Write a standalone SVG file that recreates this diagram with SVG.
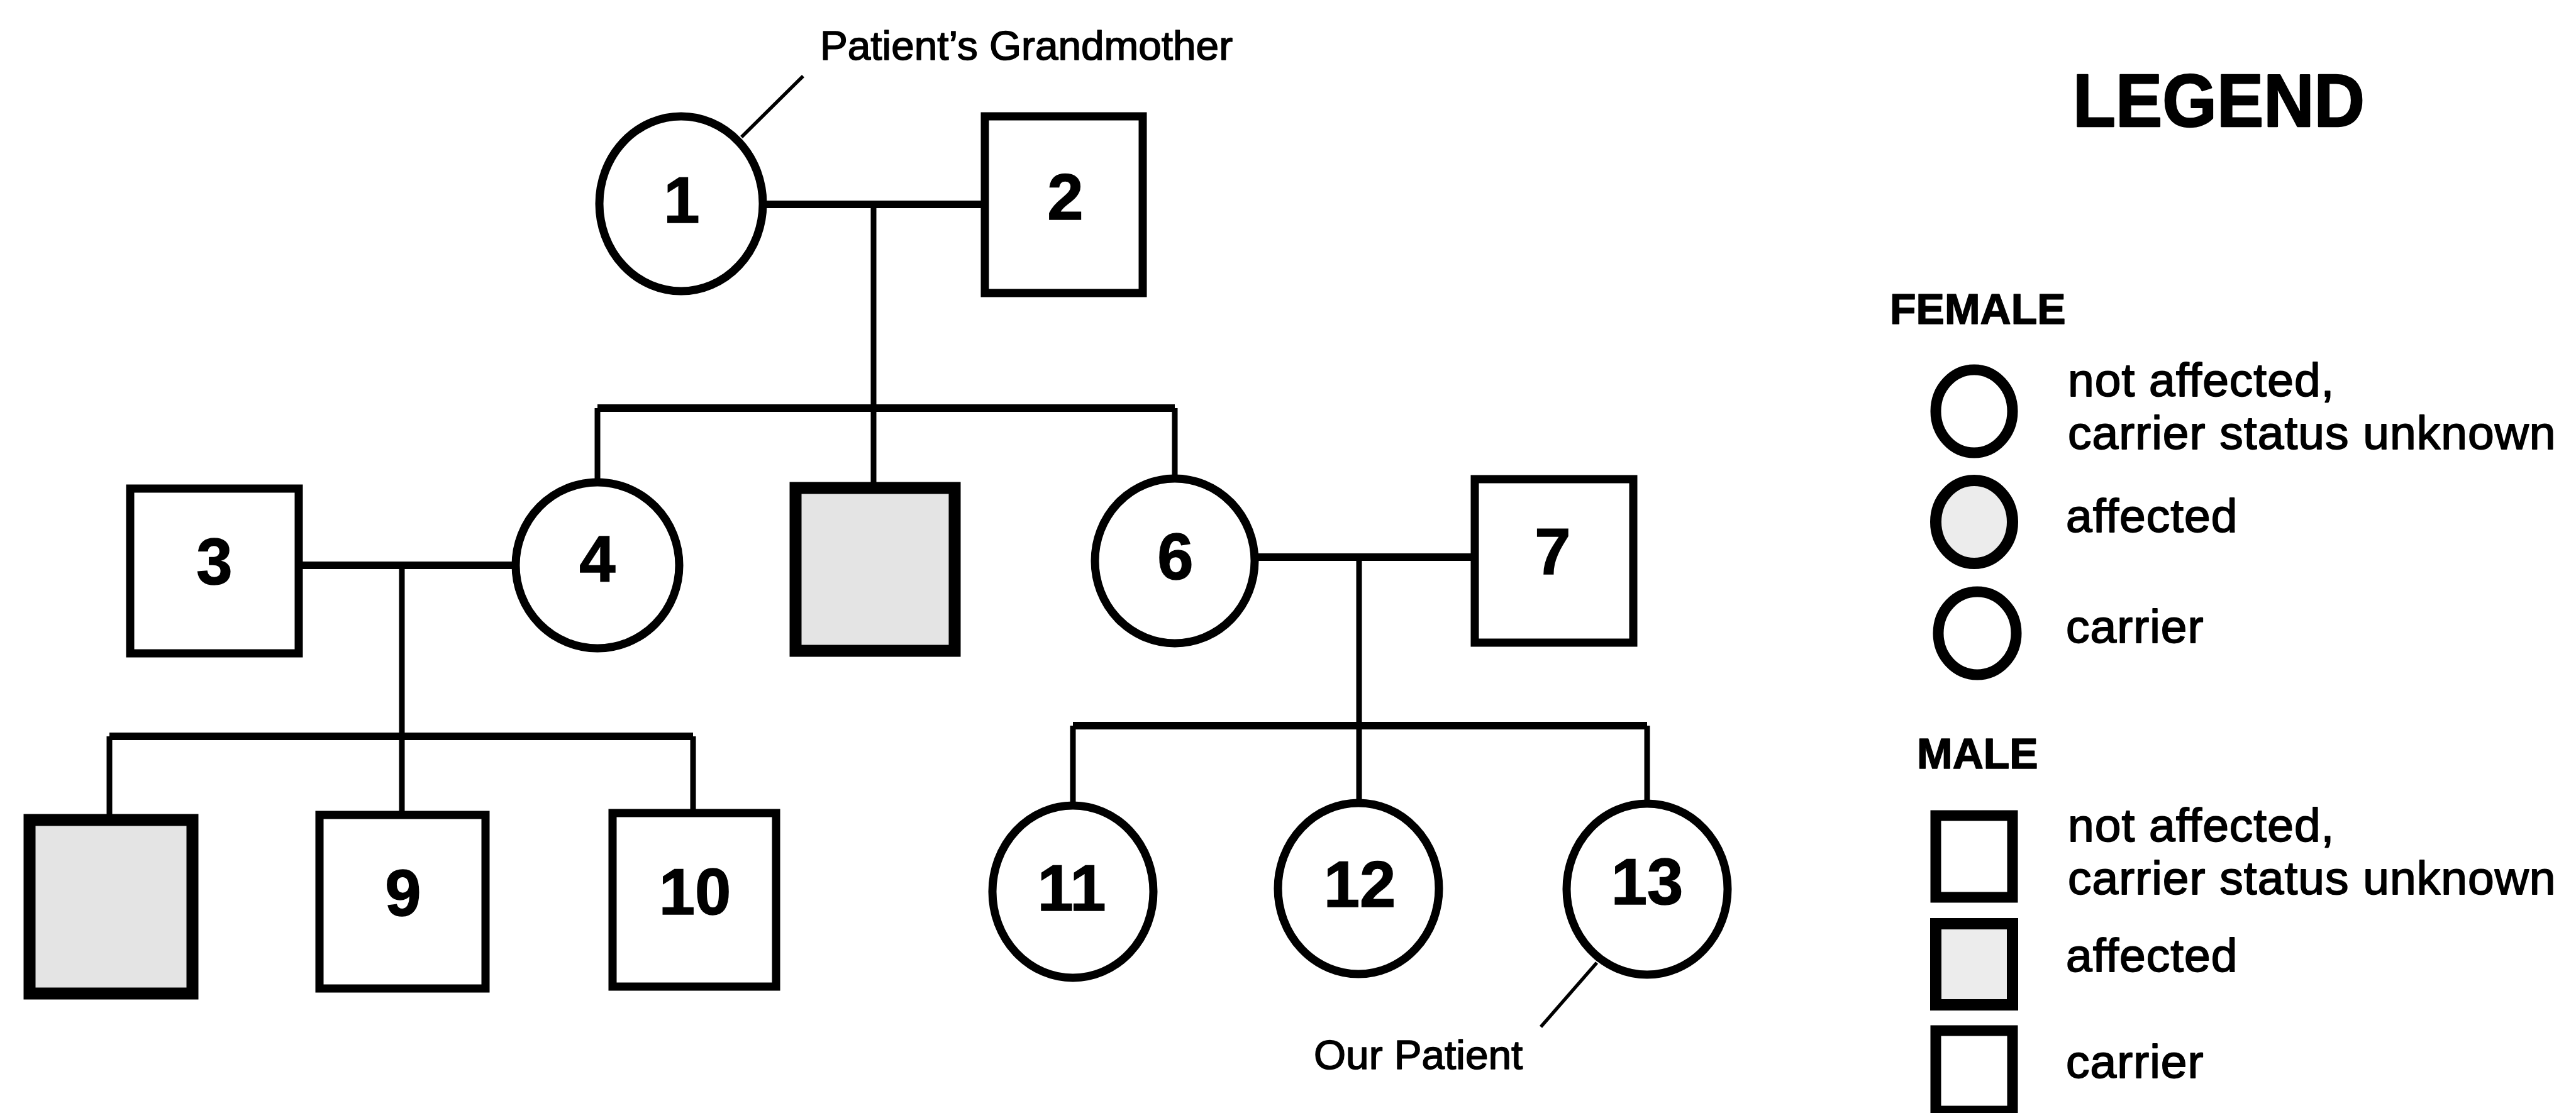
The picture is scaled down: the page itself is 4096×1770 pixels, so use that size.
<svg xmlns="http://www.w3.org/2000/svg" width="4096" height="1770" viewBox="0 0 4096 1770">
<style>
.bg{fill:#fff}
.node{fill:#fff;stroke:#000;stroke-width:13}
.aff{fill:#e4e4e4;stroke:#000;stroke-width:19}
.lg{fill:#fff;stroke:#000;stroke-width:17}
.lgaff{fill:#ececec;stroke:#000;stroke-width:18}
.h{stroke:#000;stroke-width:12;fill:none}
.v{stroke:#000;stroke-width:9;fill:none}
.lead{stroke:#000;stroke-width:5.5;fill:none}
.num{font-family:"Liberation Sans",Arial,Helvetica,sans-serif;font-weight:bold;font-size:103px;text-anchor:middle;fill:#000;stroke:#000;stroke-width:1.5}
.lbl{font-family:"Liberation Sans",Arial,Helvetica,sans-serif;font-size:65.7px;fill:#000;stroke:#000;stroke-width:1.6;stroke-linejoin:round}
.lt{font-family:"Liberation Sans",Arial,Helvetica,sans-serif;font-size:75px;letter-spacing:1px;fill:#000;stroke:#000;stroke-width:1.8;stroke-linejoin:round}
.hd{font-family:"Liberation Sans",Arial,Helvetica,sans-serif;font-weight:bold;font-size:68px;fill:#000;stroke:#000;stroke-width:1.5;stroke-linejoin:round}
.title{font-family:"Liberation Sans",Arial,Helvetica,sans-serif;font-weight:bold;font-size:119px;fill:#000;stroke:#000;stroke-width:2.5;stroke-linejoin:round}
</style>
<rect class="bg" x="0" y="0" width="4096" height="1770"/>
<g id="connectors">
  <path class="h" d="M1218 325 H1566"/>
  <path class="v" d="M1389 325 V776"/>
  <path class="h" d="M950 649 H1868"/>
  <path class="v" d="M950 649 V767"/>
  <path class="v" d="M1868 649 V761"/>
  <path class="h" d="M475 899 H820"/>
  <path class="v" d="M639 899 V1296"/>
  <path class="h" d="M174 1171 H1102"/>
  <path class="v" d="M174 1171 V1304"/>
  <path class="v" d="M1102 1171 V1293"/>
  <path class="h" d="M1995 886 H2345"/>
  <path class="v" d="M2161 886 V1277"/>
  <path class="h" d="M1706 1154 H2619"/>
  <path class="v" d="M1706 1154 V1281"/>
  <path class="v" d="M2619 1154 V1278"/>
  <path class="lead" d="M1277 121 L1179 218"/>
  <path class="lead" d="M2539 1531 L2450 1633"/>
</g>
<g id="node1"><ellipse class="node" cx="1083" cy="324" rx="130" ry="139"/><text class="num" x="1084" y="354">1</text></g>
<g id="node2"><rect class="node" x="1566" y="185" width="251" height="281"/><text class="num" x="1694" y="349">2</text></g>
<g id="node3"><rect class="node" x="207" y="777" width="268" height="262"/><text class="num" x="341" y="929">3</text></g>
<g id="node4"><ellipse class="node" cx="950" cy="899" rx="130" ry="132"/><text class="num" x="950" y="925">4</text></g>
<g id="node5"><rect class="aff" x="1265" y="776" width="253" height="259"/></g>
<g id="node6"><ellipse class="node" cx="1868" cy="892" rx="127" ry="131"/><text class="num" x="1869" y="921">6</text></g>
<g id="node7"><rect class="node" x="2345" y="762" width="252" height="260"/><text class="num" x="2469" y="913">7</text></g>
<g id="node8"><rect class="aff" x="47" y="1304" width="259" height="276"/></g>
<g id="node9"><rect class="node" x="508" y="1296" width="264" height="276"/><text class="num" x="641" y="1456">9</text></g>
<g id="node10"><rect class="node" x="974" y="1293" width="260" height="276"/><text class="num" x="1105" y="1454">10</text></g>
<g id="node11"><ellipse class="node" cx="1706" cy="1418" rx="128" ry="137"/><text class="num" x="1704" y="1448">11</text></g>
<g id="node12"><ellipse class="node" cx="2160" cy="1413" rx="128" ry="136"/><text class="num" x="2162" y="1442">12</text></g>
<g id="node13"><ellipse class="node" cx="2619" cy="1414" rx="128" ry="136"/><text class="num" x="2619" y="1438">13</text></g>
<g id="labels">
  <text class="lbl" x="1304" y="95">Patient’s Grandmother</text>
  <text class="lbl" x="2089" y="1700">Our Patient</text>
</g>
<g id="legend">
  <text class="title" x="3296" y="201" textLength="464" lengthAdjust="spacingAndGlyphs">LEGEND</text>
  <text class="hd" x="3005" y="515">FEMALE</text>
  <ellipse class="lg" cx="3139" cy="654" rx="61" ry="66"/>
  <text class="lt" x="3288" y="630">not affected,</text>
  <text class="lt" x="3288" y="714">carrier status unknown</text>
  <ellipse class="lgaff" cx="3139" cy="830" rx="61" ry="66"/>
  <text class="lt" x="3285" y="846">affected</text>
  <ellipse class="lg" cx="3144" cy="1007" rx="62" ry="66"/>
  <text class="lt" x="3285" y="1022">carrier</text>
  <text class="hd" x="3048" y="1222">MALE</text>
  <rect class="lg" x="3078" y="1297" width="122" height="130"/>
  <text class="lt" x="3288" y="1338">not affected,</text>
  <text class="lt" x="3288" y="1422">carrier status unknown</text>
  <rect class="lgaff" x="3078" y="1469" width="122" height="129"/>
  <text class="lt" x="3285" y="1545">affected</text>
  <rect class="lg" x="3078" y="1639" width="122" height="128"/>
  <text class="lt" x="3285" y="1714">carrier</text>
</g>
</svg>
